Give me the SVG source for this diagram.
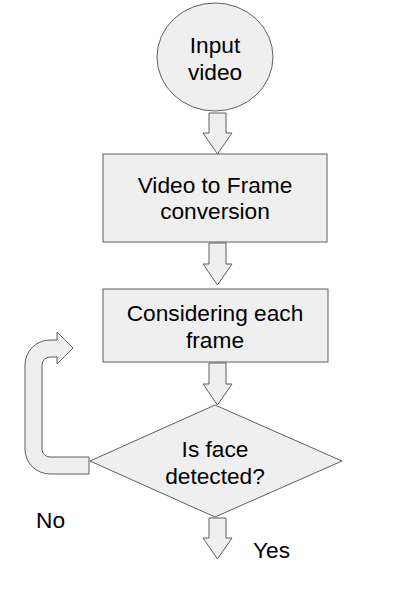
<svg xmlns="http://www.w3.org/2000/svg" width="404" height="604" viewBox="0 0 404 604">
<style>
.s{fill:#efefef;stroke:#5f5f5f;stroke-width:1}
.t{font-family:"Liberation Sans",Arial,sans-serif;font-size:22.7px;fill:#000;text-anchor:middle}
.l{font-family:"Liberation Sans",Arial,sans-serif;font-size:22.7px;fill:#000}
</style>
<rect width="404" height="604" fill="#fff"/>
<g id="connectors">
<path class="s" d="M209 113 H226 V133 H232 L217.5 154 L203 133 H209 Z"/>
<path class="s" d="M209 243 H226 V264 H232 L217.5 285 L203 264 H209 Z"/>
<path class="s" d="M209 363 H226 V384 H232 L217.5 405 L203 384 H209 Z"/>
<path class="s" d="M209 518 H226 V538 H232 L217.5 559 L203 538 H209 Z"/>
<path class="s" d="M89 457 L50 457 A8 8 0 0 1 42 449 L42 365 A8 8 0 0 1 50 357 L57 357 L57 364 L73 348 L57 332 L57 340 L50 340 A25 25 0 0 0 25 365 L25 449 A25 25 0 0 0 50 474 L89 474 Z"/>
</g>
<g id="input">
<ellipse class="s" cx="215" cy="57" rx="58" ry="54"/>
<text class="t" x="215" y="53">Input</text>
<text class="t" x="215" y="80">video</text>
</g>
<g id="convert">
<rect class="s" x="103" y="154" width="224" height="88"/>
<text class="t" x="215" y="193">Video to Frame</text>
<text class="t" x="215" y="219">conversion</text>
</g>
<g id="each">
<rect class="s" x="103" y="289" width="225" height="73"/>
<text class="t" x="215" y="321">Considering each</text>
<text class="t" x="215" y="348">frame</text>
</g>
<g id="decision">
<polygon class="s" points="215,405 342,461 215,517 90,461"/>
<text class="t" x="215" y="457">Is face</text>
<text class="t" x="215" y="484">detected?</text>
</g>
<g id="labels">
<text class="l" x="36" y="528">No</text>
<text class="l" x="253" y="558">Yes</text>
</g>
</svg>
